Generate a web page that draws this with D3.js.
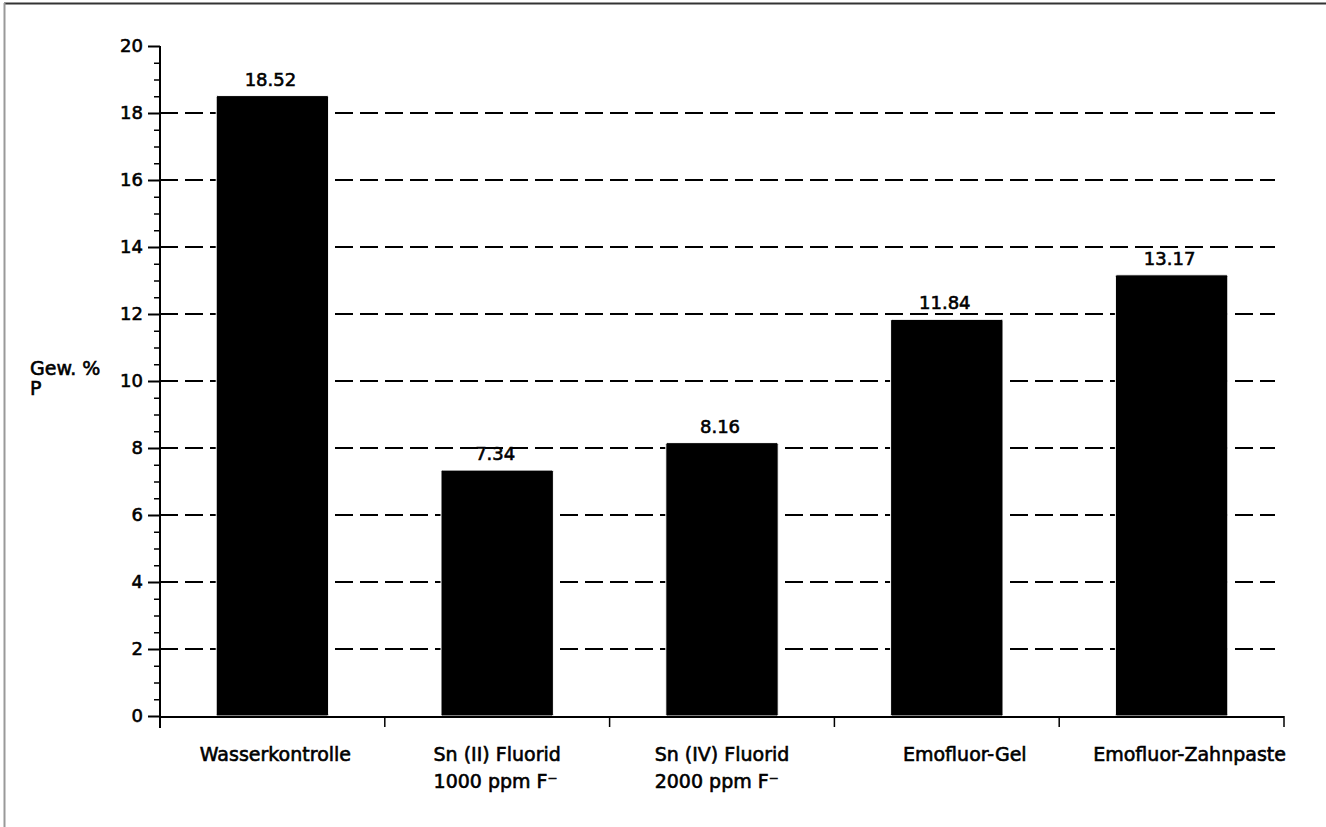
<!DOCTYPE html>
<html>
<head>
<meta charset="utf-8">
<script src="https://cdn.jsdelivr.net/npm/d3@7"></script>
<style>
  html, body { margin: 0; padding: 0; background: #fff; }
  svg { display: block; }
  text { font-family: "DejaVu Sans", sans-serif; fill: #000; }
</style>
</head>
<body>
<div id="chart"></div>
<script>
// Data
const categories = [
  ["Wasserkontrolle"],
  ["Sn (II) Fluorid", "1000 ppm F\u207B"],
  ["Sn (IV) Fluorid", "2000 ppm F\u207B"],
  ["Emofluor-Gel"],
  ["Emofluor-Zahnpaste"]
];
const values = [18.52, 7.34, 8.16, 11.84, 13.17];
const majorTicks = [0, 2, 4, 6, 8, 10, 12, 14, 16, 18, 20];
const gridTicks = [2, 4, 6, 8, 10, 12, 14, 16, 18];
const yLabel = ["Gew. %", "P"];

const W = 1326, H = 827;
const margin = { top: 46, right: 42, bottom: 111, left: 160 };
const plotRight = W - margin.right;   // 1284
const plotBottom = H - margin.bottom; // 716

const svg = d3.select("#chart").append("svg")
  .attr("width", W)
  .attr("height", H);

// frame (scan border, only top and left visible)
svg.append("line").attr("x1", 4).attr("x2", W).attr("y1", 3.5).attr("y2", 3.5)
  .attr("stroke", "#333").attr("stroke-width", 2);
svg.append("line").attr("x1", 4.5).attr("x2", 4.5).attr("y1", 3).attr("y2", H)
  .attr("stroke", "#999").attr("stroke-width", 2);

const keys = categories.map(c => c.join(" "));
const x = d3.scaleBand()
  .domain(keys)
  .range([margin.left, plotRight])
  .paddingInner(0.5)
  .paddingOuter(0.25);

const y = d3.scaleLinear()
  .domain([0, 20])
  .range([plotBottom, margin.top]);

// ---------------------------------------
// dashed grid lines (behind bars)
// ---------------------------------------
svg.append("g").selectAll("line")
  .data(gridTicks)
  .join("line")
  .attr("x1", margin.left)
  .attr("x2", plotRight - 9)
  .attr("y1", d => y(d))
  .attr("y2", d => y(d))
  .attr("stroke", "#000")
  .attr("stroke-width", 2)
  .attr("stroke-dasharray", "18,7");

// ---------------------------------------
// bars
// ---------------------------------------
svg.append("g").selectAll("rect")
  .data(values)
  .join("rect")
  .attr("x", (d, i) => x(keys[i]))
  .attr("width", x.bandwidth())
  .attr("y", d => y(d))
  .attr("height", d => plotBottom - y(d))
  .attr("rx", 1.5)
  .attr("fill", "#000")
  .attr("stroke", "#fff")
  .attr("stroke-width", 1);

// value labels
svg.append("g").selectAll("text")
  .data(values)
  .join("text")
  .attr("x", (d, i) => x(keys[i]) + x.bandwidth() / 2 - 2)
  .attr("y", d => y(d) - 10)
  .attr("text-anchor", "middle")
  .style("font-size", "18px")
  .style("stroke", "#000")
  .style("stroke-width", 0.6)
  .text(d => d.toFixed(2));

// ---------------------------------------
// y axis: major + minor ticks
// ---------------------------------------
const yAxis = svg.append("g")
  .attr("transform", `translate(${margin.left},0)`)
  .call(d3.axisLeft(y).tickValues(majorTicks).tickSize(12).tickPadding(5));

yAxis.select(".domain").remove();
yAxis.selectAll(".tick line").attr("stroke-width", 2);
yAxis.selectAll(".tick text")
  .style("font-size", "18px")
  .style("font-family", "DejaVu Sans, sans-serif")
  .style("stroke", "#000")
  .style("stroke-width", 0.6);

const minorTicks = d3.range(0, 20.01, 0.5).filter(v => v % 2 !== 0);
svg.append("g")
  .attr("transform", `translate(${margin.left},0)`)
  .call(d3.axisLeft(y).tickValues(minorTicks).tickSize(6).tickFormat(""))
  .call(g => g.select(".domain").remove())
  .selectAll(".tick line").attr("stroke-width", 1.5);

svg.append("line")
  .attr("x1", margin.left).attr("x2", margin.left)
  .attr("y1", margin.top).attr("y2", plotBottom + 12)
  .attr("stroke", "#000").attr("stroke-width", 2);

// y label
svg.append("text")
  .attr("x", 30)
  .attr("y", 375)
  .style("font-size", "19px")
  .style("stroke", "#000")
  .style("stroke-width", 0.6)
  .selectAll("tspan")
  .data(yLabel)
  .join("tspan")
  .attr("x", 30)
  .attr("dy", (d, i) => i === 0 ? 0 : 20)
  .text(d => d);

// ---------------------------------------
// x axis: baseline with ticks at group boundaries
// ---------------------------------------
svg.append("line")
  .attr("x1", margin.left).attr("x2", plotRight)
  .attr("y1", plotBottom + 1).attr("y2", plotBottom + 1)
  .attr("stroke", "#000").attr("stroke-width", 2);

const gap = (x.step() - x.bandwidth()) / 2;
const boundaries = keys.map(k => x(k) - gap).concat([plotRight]);
svg.append("g").selectAll("line")
  .data(boundaries)
  .join("line")
  .attr("x1", d => d).attr("x2", d => d)
  .attr("y1", plotBottom).attr("y2", plotBottom + 11)
  .attr("stroke", "#000").attr("stroke-width", 1.5);

// category labels: multi-line blocks left aligned, block centred on band
const labelG = svg.append("g");
categories.forEach((lines, i) => {
  const cx = x(keys[i]) + x.bandwidth() / 2;
  const t = labelG.append("text")
    .attr("y", 761)
    .style("font-size", "19px")
    .style("stroke", "#000")
    .style("stroke-width", 0.6);
  t.selectAll("tspan")
    .data(lines)
    .join("tspan")
    .attr("x", 0)
    .attr("dy", (d, j) => j === 0 ? 0 : 27)
    .text(d => d);
  const bw = t.node().getBBox().width;
  const dx = lines.length > 1 ? -bw / 2 : -bw / 2 + (i === 0 ? 3 : 18);
  t.selectAll("tspan").attr("x", cx + dx);
});
</script>
</body>
</html>
